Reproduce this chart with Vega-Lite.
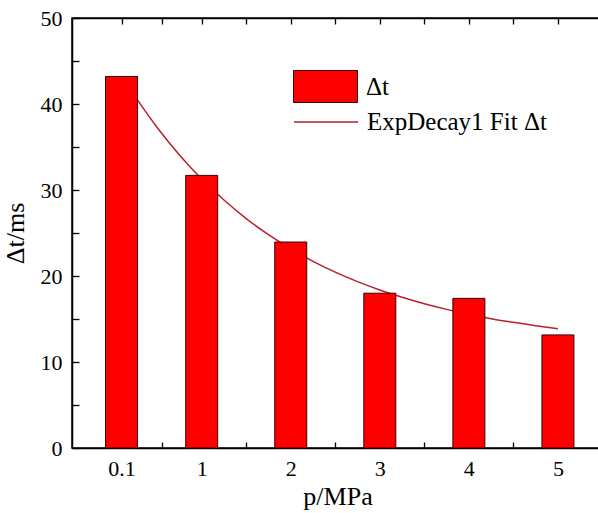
{
  "$schema": "https://vega.github.io/schema/vega-lite/v6.json",
  "autosize": {"type": "none"},
  "padding": {"left": 72, "top": 18, "right": 0, "bottom": 65},
  "width": 531,
  "height": 430,
  "background": "white",
  "config": {
    "view": {"stroke": "black", "strokeWidth": 1.5},
    "font": "Liberation Serif, Times New Roman, serif",
    "axis": {
      "labelFont": "Liberation Serif, Times New Roman, serif",
      "titleFont": "Liberation Serif, Times New Roman, serif",
      "labelFontSize": 22,
      "titleFontSize": 26,
      "titleFontWeight": "normal",
      "labelColor": "black",
      "titleColor": "black",
      "domainColor": "black",
      "tickColor": "black",
      "domainWidth": 1.5,
      "tickWidth": 1.3,
      "grid": false,
      "ticks": true
    }
  },
  "encoding": {
    "y": {
      "field": "value",
      "type": "quantitative",
      "scale": {"domain": [0, 50], "nice": false, "zero": true},
      "axis": {
        "title": "Δt/ms",
        "values": [0, 5, 10, 15, 20, 25, 30, 35, 40, 45, 50],
        "labelExpr": "datum.value % 10 === 0 ? toString(datum.value) : ''",
        "tickSize": -7,
        "labelPadding": 17,
        "titlePadding": 12
      }
    }
  },
  "layer": [
    {
      "data": {"values": [
        {"p": 0.27, "value": 40.6},
        {"p": 0.5, "value": 37.27},
        {"p": 0.75, "value": 34.08},
        {"p": 1.0, "value": 31.28},
        {"p": 1.25, "value": 28.83},
        {"p": 1.5, "value": 26.68},
        {"p": 1.75, "value": 24.8},
        {"p": 2.0, "value": 23.16},
        {"p": 2.25, "value": 21.71},
        {"p": 2.5, "value": 20.45},
        {"p": 2.75, "value": 19.34},
        {"p": 3.0, "value": 18.37},
        {"p": 3.25, "value": 17.52},
        {"p": 3.5, "value": 16.77},
        {"p": 3.75, "value": 16.12},
        {"p": 4.0, "value": 15.55},
        {"p": 4.25, "value": 15.04},
        {"p": 4.5, "value": 14.61},
        {"p": 4.75, "value": 14.22},
        {"p": 5.0, "value": 13.88}
      ]},
      "mark": {"type": "line", "strokeWidth": 1.5, "interpolate": "monotone"},
      "encoding": {
        "x": {
          "field": "p",
          "type": "quantitative",
          "scale": {"domain": [-0.4, 5.45], "nice": false, "zero": false},
          "axis": {
            "title": null,
            "orient": "top",
            "labels": false,
            "values": [0.1, 0.55, 1, 1.5, 2, 2.5, 3, 3.5, 4, 4.5, 5],
            "tickSize": -6
          }
        },
        "stroke": {
          "datum": "ExpDecay1 Fit Δt",
          "scale": {"range": ["#b8202a"]},
          "legend": {
            "title": null,
            "orient": "none",
            "legendX": 221,
            "legendY": 71,
            "symbolType": "stroke",
            "symbolSize": 4096,
            "symbolStrokeWidth": 1.5,
            "labelFont": "Liberation Serif, Times New Roman, serif",
            "labelFontSize": 25,
            "labelLimit": 400,
            "labelColor": "black",
            "labelOffset": 8
          }
        }
      }
    },
    {
      "data": {"values": [
        {"p": 0.1, "value": 43.2},
        {"p": 1, "value": 31.7},
        {"p": 2, "value": 23.95},
        {"p": 3, "value": 18.0},
        {"p": 4, "value": 17.4},
        {"p": 5, "value": 13.15}
      ]},
      "mark": {"type": "bar", "width": 32, "stroke": "#3a0000", "strokeWidth": 1},
      "encoding": {
        "x": {
          "field": "p",
          "type": "quantitative",
          "scale": {"domain": [-0.4, 5.45], "nice": false, "zero": false},
          "axis": {
            "title": "p/MPa",
            "orient": "bottom",
            "values": [0.1, 0.55, 1, 1.5, 2, 2.5, 3, 3.5, 4, 4.5, 5],
            "labelExpr": "indexof([0.1,1,2,3,4,5], datum.value) >= 0 ? toString(datum.value) : ''",
            "tickSize": -6,
            "labelPadding": 16,
            "titlePadding": 4
          }
        },
        "fill": {
          "datum": "Δt",
          "scale": {"range": ["#ff0000"]},
          "legend": {
            "title": null,
            "orient": "none",
            "legendX": 221,
            "legendY": 36,
            "symbolType": "M-1,-0.5H1V0.5H-1Z",
            "symbolSize": 4096,
            "symbolStrokeColor": "#3a0000",
            "symbolStrokeWidth": 1,
            "labelFont": "Liberation Serif, Times New Roman, serif",
            "labelFontSize": 25,
            "labelColor": "black",
            "labelOffset": 8
          }
        }
      }
    }
  ],
  "resolve": {"axis": {"x": "independent"}, "scale": {"x": "shared", "y": "shared"}}
}
